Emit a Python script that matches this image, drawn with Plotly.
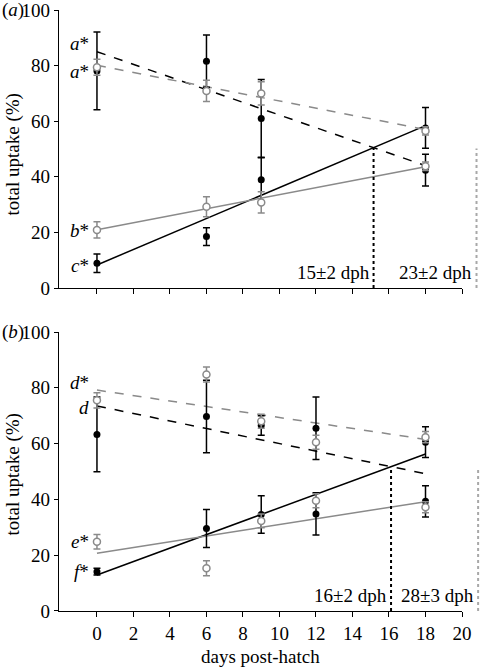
import plotly.graph_objects as go

# ---------------- data ----------------
days_a = [0, 6, 9, 18]
black_up_a = [78.1, 81.6, 61.0, 57.6]
black_up_a_err = [14.0, 9.4, 14.0, 7.3]
black_lo_a = [8.9, 18.5, 38.9, 42.4]
black_lo_a_err = [3.3, 3.2, 8.0, 5.7]
gray_up_a = [79.4, 70.9, 70.0, 56.5]
gray_up_a_err = [2.9, 3.8, 4.2, 1.5]
gray_lo_a = [20.9, 29.2, 30.8, 43.8]
gray_lo_a_err = [2.9, 3.6, 3.8, 1.5]

days_b = [0, 6, 9, 12, 18]
black_up_b = [63.3, 69.7, 66.5, 65.5, 60.5]
black_up_b_err = [13.4, 13.0, 3.5, 11.2, 5.5]
black_lo_b = [14.1, 29.6, 34.6, 34.8, 39.3]
black_lo_b_err = [1.2, 6.8, 6.7, 7.6, 5.6]
gray_up_b = [75.5, 84.8, 68.0, 60.5, 62.3]
gray_up_b_err = [2.7, 2.7, 2.5, 2.5, 2.0]
gray_lo_b = [24.8, 15.3, 32.3, 39.5, 37.2]
gray_lo_b_err = [2.6, 2.7, 2.5, 2.5, 2.0]

# regression line end points (x = 0 and x = 18)
reg_x = [0, 18]
reg_a_black_dash = [85.0, 44.0]
reg_a_gray_dash = [80.1, 57.0]
reg_a_black_solid = [8.3, 58.4]
reg_a_gray_solid = [21.0, 43.6]
reg_b_black_dash = [73.5, 49.2]
reg_b_gray_dash = [79.2, 61.5]
reg_b_black_solid = [12.9, 56.3]
reg_b_gray_solid = [20.7, 39.2]

x_ticks = list(range(0, 21, 2))
y_ticks = [0, 20, 40, 60, 80, 100]
labels_a = [("<i>a</i>*", 88.0), ("<i>a</i>*", 78.0), ("<i>b</i>*", 20.6), ("<i>c</i>*", 8.0)]
labels_b = [("<i>d</i>*", 82.0), ("<i>d</i>", 73.0), ("<i>e</i>*", 24.8), ("<i>f</i>*", 14.1)]
dph_a = ["15\u00b12 dph", "23\u00b12 dph"]
dph_b = ["16\u00b12 dph", "28\u00b13 dph"]

# ---------------- style ----------------
FONT = "Liberation Serif"
FS = 19
GRAY = "#8a8a8a"
LGRAY = "#a8a8a8"
XR = [-2.08, 20]
TOP_DOM = [0.5374, 1.0]
BOT_DOM = [0.0, 0.4642]


def cross(a, b):
    sa = (a[1] - a[0]) / (reg_x[1] - reg_x[0])
    sb = (b[1] - b[0]) / (reg_x[1] - reg_x[0])
    x = (b[0] - a[0]) / (sa - sb)
    return x, a[0] + sa * x


def ypaper(v, dom):
    return dom[0] + v / 100.0 * (dom[1] - dom[0])


fig = go.Figure()


def add_line(y, color, dash, xa, ya):
    fig.add_trace(go.Scatter(x=reg_x, y=y, mode="lines", xaxis=xa, yaxis=ya,
                             line=dict(color=color, width=1.5, dash=dash),
                             showlegend=False, hoverinfo="skip"))


def add_pts(x, y, err, color, filled, xa, ya):
    fig.add_trace(go.Scatter(
        x=x, y=y, mode="markers", xaxis=xa, yaxis=ya, showlegend=False,
        error_y=dict(type="data", array=err, visible=True, color=color,
                     thickness=1.5, width=3.5),
        marker=dict(size=7, symbol="circle",
                    color=color if filled else "white",
                    line=dict(color=color, width=0 if filled else 1.5))))


# panel a (top)
add_line(reg_a_black_dash, "black", "dash", "x2", "y2")
add_line(reg_a_black_solid, "black", "solid", "x2", "y2")
add_line(reg_a_gray_dash, GRAY, "dash", "x2", "y2")
add_line(reg_a_gray_solid, GRAY, "solid", "x2", "y2")
add_pts(days_a, black_up_a, black_up_a_err, "black", True, "x2", "y2")
add_pts(days_a, black_lo_a, black_lo_a_err, "black", True, "x2", "y2")
add_pts(days_a, gray_up_a, gray_up_a_err, GRAY, False, "x2", "y2")
add_pts(days_a, gray_lo_a, gray_lo_a_err, GRAY, False, "x2", "y2")

# panel b (bottom)
add_line(reg_b_black_dash, "black", "dash", "x", "y")
add_line(reg_b_black_solid, "black", "solid", "x", "y")
add_line(reg_b_gray_dash, GRAY, "dash", "x", "y")
add_line(reg_b_gray_solid, GRAY, "solid", "x", "y")
add_pts(days_b, black_up_b, black_up_b_err, "black", True, "x", "y")
add_pts(days_b, black_lo_b, black_lo_b_err, "black", True, "x", "y")
add_pts(days_b, gray_up_b, gray_up_b_err, GRAY, False, "x", "y")
add_pts(days_b, gray_lo_b, gray_lo_b_err, GRAY, False, "x", "y")

shapes = []
annotations = []

for (bd, bs, gd, gs, xa, ya, dom, gx, dph, labs) in [
    (reg_a_black_dash, reg_a_black_solid, reg_a_gray_dash, reg_a_gray_solid,
     "x2", "y2", TOP_DOM, 1.036, dph_a, labels_a),
    (reg_b_black_dash, reg_b_black_solid, reg_b_gray_dash, reg_b_gray_solid,
     "x", "y", BOT_DOM, 1.040, dph_b, labels_b)]:
    bx, by = cross(bd, bs)
    gxx, gy = cross(gd, gs)
    shapes.append(dict(type="line", xref=xa, yref=ya, x0=bx, x1=bx, y0=0, y1=by,
                       line=dict(color="black", width=2, dash="dot")))
    shapes.append(dict(type="line", xref="paper", yref="paper", x0=gx, x1=gx,
                       y0=ypaper(0, dom), y1=ypaper(gy, dom),
                       line=dict(color=LGRAY, width=2, dash="dot")))
    annotations.append(dict(x=bx - 0.1, y=5.5, xref=xa, yref=ya, text=dph[0],
                            showarrow=False, xanchor="right", yanchor="middle",
                            font=dict(family=FONT, size=FS, color="black")))
    annotations.append(dict(x=gx - 0.005, y=ypaper(5.5, dom), xref="paper", yref="paper",
                            text=dph[1], showarrow=False, xanchor="right", yanchor="middle",
                            font=dict(family=FONT, size=FS, color="black")))
    for t, v in labs:
        annotations.append(dict(x=-0.35, y=v, xref=xa, yref=ya, text=t, showarrow=False,
                                xanchor="right", yanchor="middle",
                                font=dict(family=FONT, size=FS, color="black")))

# panel letters
annotations.append(dict(x=-0.1464, y=100, xref="paper", yref="y2", text="(<i>a</i>)",
                        showarrow=False, xanchor="left", yanchor="middle",
                        font=dict(family=FONT, size=FS, color="black")))
annotations.append(dict(x=-0.1464, y=100, xref="paper", yref="y", text="(<i>b</i>)",
                        showarrow=False, xanchor="left", yanchor="middle",
                        font=dict(family=FONT, size=FS, color="black")))
# axis titles
annotations.append(dict(x=-0.113, y=48.2, xref="paper", yref="y2", text="total uptake (%)",
                        showarrow=False, textangle=-90, xanchor="center", yanchor="middle",
                        font=dict(family=FONT, size=FS, color="black")))
annotations.append(dict(x=-0.113, y=49.1, xref="paper", yref="y", text="total uptake (%)",
                        showarrow=False, textangle=-90, xanchor="center", yanchor="middle",
                        font=dict(family=FONT, size=FS, color="black")))
annotations.append(dict(x=0.5, y=-0.0765, xref="paper", yref="paper", text="days post-hatch",
                        showarrow=False, xanchor="center", yanchor="middle",
                        font=dict(family=FONT, size=FS, color="black")))

axis_common = dict(showgrid=False, zeroline=False, showline=True, linecolor="black",
                   linewidth=1.2, ticks="outside", tickcolor="black", tickwidth=1.2,
                   automargin=False, ticklabeloverflow="allow",
                   tickfont=dict(family=FONT, size=FS, color="black"))

fig.update_layout(
    width=481, height=670,
    margin=dict(l=59, r=19, t=10, b=59, autoexpand=False),
    paper_bgcolor="white", plot_bgcolor="white",
    showlegend=False,
    font=dict(family=FONT, size=FS, color="black"),
    xaxis=dict(domain=[0, 1], range=XR, anchor="y", tickvals=x_ticks, ticklen=5, **axis_common),
    yaxis=dict(domain=BOT_DOM, range=[0, 100], anchor="x", tickvals=y_ticks, ticklen=4, **axis_common),
    xaxis2=dict(domain=[0, 1], range=XR, anchor="y2", tickvals=x_ticks, ticklen=5,
                showticklabels=False, **axis_common),
    yaxis2=dict(domain=TOP_DOM, range=[0, 100], anchor="x2", tickvals=y_ticks, ticklen=4, **axis_common),
    shapes=shapes,
    annotations=annotations,
)

fig.write_html("out.html", config={"displayModeBar": False},
               post_script="document.body.style.margin='0';document.body.style.overflow='hidden';")
